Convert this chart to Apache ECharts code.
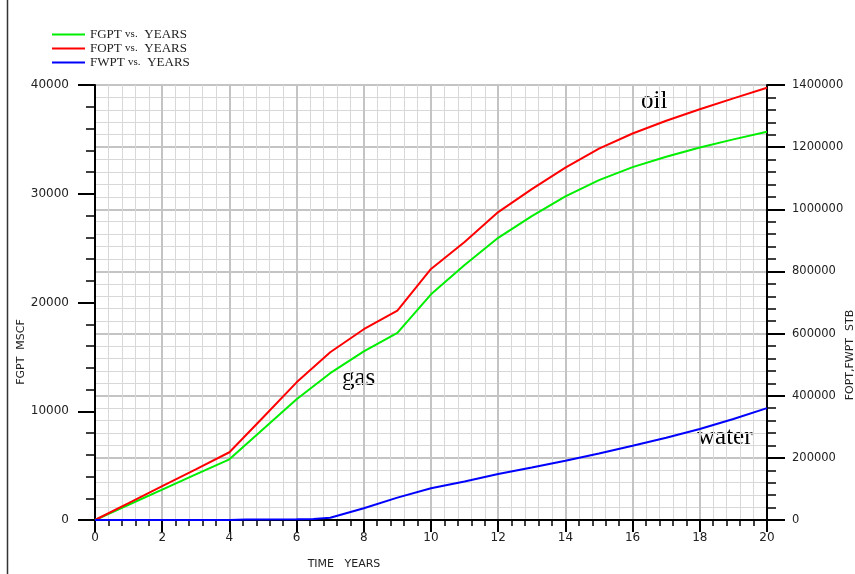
<!DOCTYPE html>
<html>
<head>
<meta charset="utf-8">
<script src="https://cdn.jsdelivr.net/npm/echarts@6/dist/echarts.min.js"></script>
<style>
  html, body { margin: 0; padding: 0; background: #fff; }
  #chart { width: 855px; height: 574px; }
</style>
</head>
<body>
<div id="chart"></div>
<script>
// time in years
var years = [0, 1, 2, 3, 4, 5, 6, 7, 8, 9, 10, 11, 12, 13, 14, 15, 16, 17, 18, 19, 20];
// cumulative gas, MSCF (left axis)
var fgpt = [0, 1400, 2790, 4190, 5580, 8340, 11100, 13500, 15500, 17200, 20750,
            23450, 25950, 27950, 29750, 31250, 32450, 33400, 34250, 35000, 35700];
// cumulative oil, STB (right axis)
var fopt = [0, 54000, 109000, 163000, 218000, 330000, 443000, 540000, 614000, 674000, 808000,
            895000, 991000, 1065000, 1134000, 1195000, 1244000, 1285000, 1322000, 1357000, 1391000];
// cumulative water, STB (right axis)
var waterYears = [0, 4, 4.5, 6, 6.5, 7, 8, 9, 10, 11, 12, 13, 14, 15, 16, 17, 18, 19, 20];
var fwpt = [0, 0, 2000, 2500, 3000, 7000, 38000, 72000, 102000, 124000, 148000,
            169000, 191000, 214000, 239000, 265000, 293000, 325000, 360000];

var seriesNames = ['FGPT vs. YEARS', 'FOPT vs. YEARS', 'FWPT vs. YEARS'];

function pairs(xs, ys) {
  return xs.map(function (x, i) { return [x, ys[i]]; });
}
function plain(v) { return String(v); }

var chart = echarts.init(document.getElementById('chart'));

var labelFont = { color: '#222', fontFamily: 'DejaVu Sans', fontSize: 12, formatter: plain };
var serif = 'Liberation Serif';

chart.setOption({
  animation: false,
  backgroundColor: '#fff',
  grid: { left: 95, right: 88, top: 85, bottom: 54, containLabel: false },
  legend: {
    orient: 'vertical',
    left: 47,
    top: 23,
    icon: 'rect',
    itemWidth: 33,
    itemHeight: 2,
    itemGap: 1,
    data: seriesNames,
    formatter: function (name) {
      var p = name.split(' vs. ');
      return '{a|' + p[0] + '} {b|vs.}  {a|' + p[1] + '}';
    },
    textStyle: {
      rich: {
        a: { fontFamily: serif, fontSize: 13, color: '#222', lineHeight: 14.5 },
        b: { fontFamily: serif, fontSize: 11, color: '#222', lineHeight: 14.5 }
      }
    }
  },
  xAxis: {
    type: 'value',
    min: 0,
    max: 20,
    interval: 2,
    axisLine: { show: true, onZero: false, lineStyle: { color: '#000', width: 2 } },
    axisTick: { show: true, length: 12, lineStyle: { color: '#000', width: 2 } },
    minorTick: { show: true, splitNumber: 5, length: 6, lineStyle: { color: '#000', width: 1.5 } },
    axisLabel: Object.assign({ margin: 12 }, labelFont),
    splitLine: { show: true, lineStyle: { color: '#c4c4c4', width: 2 } },
    minorSplitLine: { show: true, lineStyle: { color: '#d8d8d8', width: 1 } }
  },
  yAxis: [
    {
      type: 'value',
      position: 'left',
      min: 0,
      max: 40000,
      interval: 10000,
      axisLine: { show: true, onZero: false, lineStyle: { color: '#000', width: 2 } },
      axisTick: { show: true, length: 17, lineStyle: { color: '#000', width: 2 } },
      minorTick: { show: true, splitNumber: 5, length: 9, lineStyle: { color: '#000', width: 1.5 } },
      axisLabel: Object.assign({ margin: 26 }, labelFont),
      splitLine: { show: false },
      minorSplitLine: { show: false }
    },
    {
      type: 'value',
      position: 'right',
      min: 0,
      max: 1400000,
      interval: 200000,
      axisLine: { show: true, onZero: false, lineStyle: { color: '#000', width: 2 } },
      axisTick: { show: true, length: 18, lineStyle: { color: '#000', width: 2 } },
      minorTick: { show: true, splitNumber: 5, length: 9, lineStyle: { color: '#000', width: 1.5 } },
      axisLabel: Object.assign({}, labelFont, { margin: 25, fontSize: 11.5 }),
      splitLine: { show: true, lineStyle: { color: '#c4c4c4', width: 2 } },
      minorSplitLine: { show: true, lineStyle: { color: '#d8d8d8', width: 1 } }
    }
  ],
  series: [
    {
      name: seriesNames[0],
      type: 'line',
      yAxisIndex: 0,
      symbol: 'none',
      clip: false,
      zlevel: 1,
      color: '#00ee00',
      lineStyle: { width: 2 },
      data: pairs(years, fgpt)
    },
    {
      name: seriesNames[1],
      type: 'line',
      yAxisIndex: 1,
      symbol: 'none',
      clip: false,
      zlevel: 1,
      color: '#ff0000',
      lineStyle: { width: 2 },
      data: pairs(years, fopt)
    },
    {
      name: seriesNames[2],
      type: 'line',
      yAxisIndex: 1,
      symbol: 'none',
      clip: false,
      zlevel: 1,
      color: '#0000ff',
      lineStyle: { width: 2 },
      data: pairs(waterYears, fwpt)
    }
  ],
  graphic: [
    // outer frame line on the left
    { type: 'line', shape: { x1: 7.5, y1: 0, x2: 7.5, y2: 574 }, style: { stroke: '#333', lineWidth: 1.5 } },
    // axis titles
    { type: 'text', x: 344, y: 564, style: { text: 'TIME   YEARS', fill: '#222', font: '11px "DejaVu Sans"', align: 'center', verticalAlign: 'middle' } },
    { type: 'text', x: 21, y: 352, rotation: Math.PI / 2, style: { text: 'FGPT  MSCF', fill: '#222', font: '11px "DejaVu Sans"', align: 'center', verticalAlign: 'middle' } },
    { type: 'text', x: 850, y: 355, rotation: Math.PI / 2, style: { text: 'FOPT,FWPT  STB', fill: '#222', font: '11px "DejaVu Sans"', align: 'center', verticalAlign: 'middle' } },
    // curve annotations
    { type: 'text', x: 641, y: 114, style: { text: 'oil', fill: '#000', font: '25px "Liberation Serif"', verticalAlign: 'bottom' } },
    { type: 'text', x: 342, y: 391, style: { text: 'gas', fill: '#000', font: '25px "Liberation Serif"', verticalAlign: 'bottom' } },
    { type: 'text', x: 697, y: 450, style: { text: 'water', fill: '#000', font: '25px "Liberation Serif"', verticalAlign: 'bottom' } }
  ]
});
</script>
</body>
</html>
